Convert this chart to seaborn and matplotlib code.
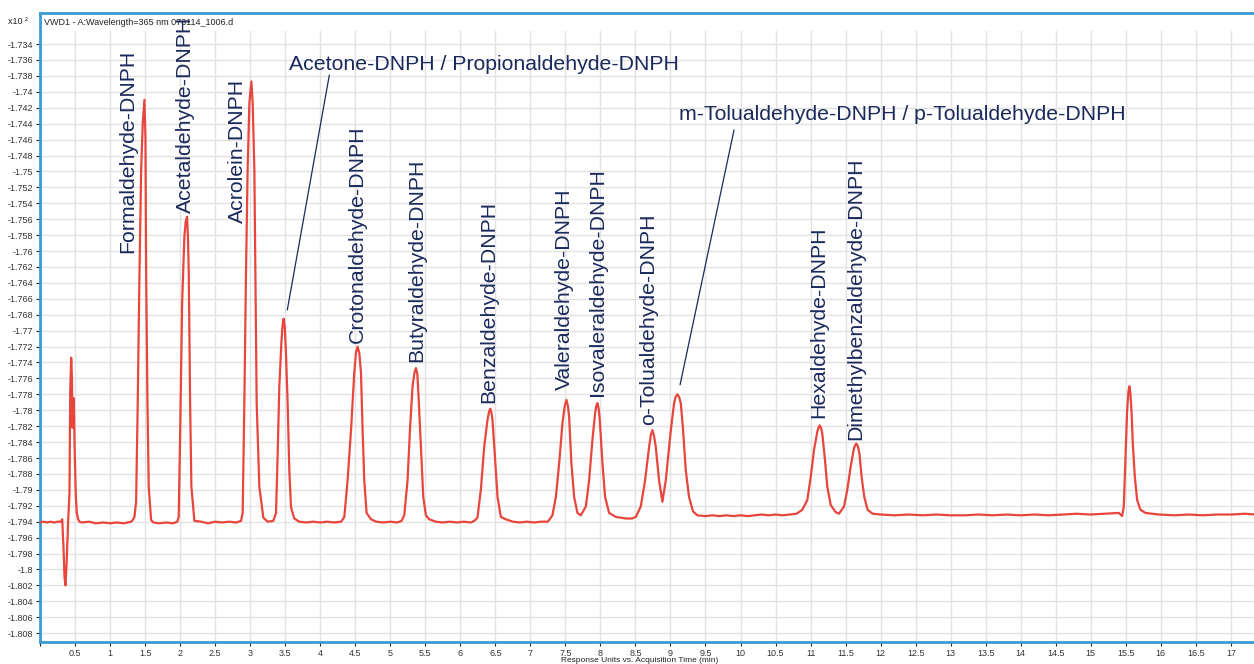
import matplotlib
matplotlib.use("Agg")
import matplotlib.pyplot as plt
import matplotlib.ticker as mticker
from matplotlib.patches import Rectangle
import seaborn as sns
import pandas as pd
import numpy as np

# --- Trace (x10^2 response units vs minutes) ---
time_min = [
    0.00, 0.05, 0.10, 0.15, 0.20, 0.25, 0.30, 0.317,
    # injection disturbance
    0.335, 0.350, 0.364, 0.382, 0.402, 0.421, 0.431, 0.445, 0.456, 0.464, 0.482,
    0.495, 0.510, 0.525, 0.545, 0.563,
    0.6, 0.7, 0.8, 0.9, 1.0, 1.1, 1.2, 1.3, 1.324,
    # formaldehyde
    1.348, 1.372, 1.395, 1.419, 1.444, 1.467, 1.491, 1.505, 1.515, 1.534, 1.552, 1.586,
    1.62, 1.7, 1.8, 1.9, 1.96,
    # acetaldehyde
    1.98, 2.0, 2.029, 2.061, 2.08, 2.10, 2.112, 2.123, 2.143, 2.161, 2.204,
    2.3, 2.4, 2.5, 2.6, 2.7, 2.8, 2.87,
    # acrolein
    2.893, 2.917, 2.941, 2.964, 2.989, 3.017, 3.036, 3.06, 3.074, 3.093, 3.131, 3.188,
    3.25, 3.33,
    # acetone / propionaldehyde
    3.369, 3.393, 3.416, 3.445, 3.462, 3.478, 3.495, 3.511, 3.535, 3.559, 3.583, 3.63,
    3.7, 3.8, 3.9, 4.0, 4.1, 4.2, 4.3,
    # crotonaldehyde
    4.344, 4.391, 4.44, 4.486, 4.51, 4.534, 4.558, 4.582, 4.605, 4.629, 4.662, 4.725,
    4.8, 4.9, 5.0, 5.1, 5.16,
    # butyraldehyde
    5.2, 5.247, 5.281, 5.318, 5.345, 5.367, 5.387, 5.404, 5.438, 5.471, 5.509, 5.556,
    5.65, 5.75, 5.85, 5.95, 6.05, 6.15, 6.2,
    # benzaldehyde
    6.245, 6.293, 6.341, 6.388, 6.41, 6.427, 6.444, 6.459, 6.494, 6.531, 6.579, 6.65,
    6.75, 6.85, 6.95, 7.05, 7.15, 7.25,
    # valeraldehyde
    7.315, 7.364, 7.411, 7.458, 7.49, 7.515, 7.535, 7.553, 7.586, 7.625, 7.672, 7.72,
    # isovaleraldehyde
    7.792, 7.839, 7.886, 7.924, 7.94, 7.957, 7.975, 7.991, 8.029, 8.067, 8.124, 8.22,
    8.362, 8.45,
    # o-tolualdehyde
    8.505, 8.576, 8.638, 8.695, 8.72, 8.742, 8.765, 8.79, 8.837, 8.885,
    # m/p-tolualdehyde
    8.933, 9.005, 9.052, 9.075, 9.098, 9.122, 9.147, 9.18, 9.218, 9.265, 9.322, 9.384,
    9.5, 9.6, 9.7, 9.8, 9.9, 10.0, 10.1, 10.2, 10.3, 10.4, 10.5, 10.6, 10.7, 10.8,
    # hexaldehyde
    10.882, 10.953, 11.002, 11.049, 11.096, 11.113, 11.13, 11.148, 11.167, 11.206,
    11.239, 11.287, 11.358, 11.405,
    # dimethylbenzaldehyde
    11.477, 11.524, 11.572, 11.619, 11.636, 11.652, 11.674, 11.697, 11.729, 11.767,
    11.814, 11.885,
    12.0, 12.2, 12.4, 12.6, 12.8, 13.0, 13.2, 13.4, 13.6, 13.8, 14.0, 14.2, 14.4,
    14.6, 14.8, 15.0, 15.2, 15.4, 15.447,
    # late peak
    15.471, 15.495, 15.519, 15.537, 15.552, 15.566, 15.581, 15.6, 15.629, 15.662,
    15.709, 15.78, 15.97,
    16.2, 16.4, 16.6, 16.8, 17.0, 17.2, 17.35,
]

response = [
    -1.7941, -1.7940, -1.7941, -1.7940, -1.7941, -1.7940, -1.7940, -1.7937,
    -1.7972, -1.8010, -1.8020, -1.7988, -1.7938, -1.7904, -1.7779, -1.7734, -1.7760, -1.7822, -1.7785,
    -1.7850, -1.7905, -1.7929, -1.7937, -1.7940,
    -1.7941, -1.7940, -1.7942, -1.7941, -1.7942, -1.7941, -1.7942, -1.7940, -1.7938,
    -1.7934, -1.7915, -1.7791, -1.7633, -1.7498, -1.7439, -1.7410, -1.7457, -1.7624, -1.7791, -1.7896, -1.7938,
    -1.7941, -1.7942, -1.7941, -1.7942, -1.7940,
    -1.7934, -1.7833, -1.7665, -1.7582, -1.7563, -1.7557, -1.7583, -1.7624, -1.7791, -1.7896, -1.7939,
    -1.7940, -1.7942, -1.7940, -1.7941, -1.7940, -1.7941, -1.7939,
    -1.7929, -1.7791, -1.7624, -1.7498, -1.7414, -1.7387, -1.7414, -1.7498, -1.7624, -1.7791, -1.7896, -1.7935,
    -1.7940, -1.7939,
    -1.7929, -1.7854, -1.7771, -1.7716, -1.7694, -1.7685, -1.7696, -1.7728, -1.7791, -1.7875, -1.7922, -1.7936,
    -1.7940, -1.7941, -1.7940, -1.7941, -1.7940, -1.7941, -1.7940,
    -1.7934, -1.7888, -1.7825, -1.7753, -1.7728, -1.7720, -1.7728, -1.7753, -1.7825, -1.7888, -1.7929, -1.7937,
    -1.7940, -1.7941, -1.7940, -1.7941, -1.7939,
    -1.7932, -1.7888, -1.7825, -1.7770, -1.7753, -1.7747, -1.7755, -1.7783, -1.7846, -1.7909, -1.7932, -1.7937,
    -1.7940, -1.7941, -1.7940, -1.7941, -1.7940, -1.7941, -1.7939,
    -1.7935, -1.7900, -1.7846, -1.7812, -1.7802, -1.7798, -1.7803, -1.7812, -1.7858, -1.7909, -1.7934, -1.7937,
    -1.7940, -1.7941, -1.7940, -1.7941, -1.7940, -1.7940,
    -1.7932, -1.7909, -1.7867, -1.7816, -1.7795, -1.7787, -1.7794, -1.7808, -1.7867, -1.7909, -1.7929, -1.7932,
    -1.7921, -1.7888, -1.7837, -1.7804, -1.7795, -1.7791, -1.7798, -1.7812, -1.7867, -1.7909, -1.7929, -1.7934,
    -1.7936, -1.7936,
    -1.7934, -1.7921, -1.7888, -1.7846, -1.7831, -1.7825, -1.7832, -1.7846, -1.7888, -1.7915,
    -1.7888, -1.7825, -1.7791, -1.7783, -1.7780, -1.7783, -1.7791, -1.7825, -1.7875, -1.7909, -1.7927, -1.7932,
    -1.7933, -1.7932, -1.7933, -1.7932, -1.7933, -1.7932, -1.7933, -1.7932, -1.7931, -1.7932,
    -1.7931, -1.7932, -1.7931, -1.7930,
    -1.7925, -1.7913, -1.7884, -1.7850, -1.7827, -1.7822, -1.7819, -1.7822, -1.7829, -1.7863,
    -1.7896, -1.7919, -1.7928, -1.7930,
    -1.7921, -1.7900, -1.7871, -1.7848, -1.7844, -1.7842, -1.7845, -1.7854, -1.7884, -1.7909,
    -1.7925, -1.7930,
    -1.7931, -1.7932, -1.7931, -1.7932, -1.7931, -1.7932, -1.7932, -1.7931, -1.7932, -1.7931,
    -1.7932, -1.7931, -1.7932, -1.7931, -1.7930, -1.7931, -1.7930, -1.7929, -1.7933,
    -1.7921, -1.7862, -1.7800, -1.7777, -1.7770, -1.7779, -1.7800, -1.7842, -1.7884, -1.7913,
    -1.7925, -1.7929, -1.7931,
    -1.7932, -1.7931, -1.7932, -1.7931, -1.7931, -1.7930, -1.7931,
]

# rotated peak labels: text, x (min), bottom of label (response)
peak_names = ["Formaldehyde-DNPH", "Acetaldehyde-DNPH", "Acrolein-DNPH",
              "Crotonaldehyde-DNPH", "Butyraldehyde-DNPH", "Benzaldehyde-DNPH",
              "Valeraldehyde-DNPH", "Isovaleraldehyde-DNPH", "o-Tolualdehyde-DNPH",
              "Hexaldehyde-DNPH", "Dimethylbenzaldehyde-DNPH"]
label_x = [1.248, 2.076, 2.817, 4.529, 5.385, 6.412, 7.482, 7.953, 8.695, 11.12, 11.647]
label_y = [-1.7603, -1.7552, -1.7565, -1.7716, -1.7739, -1.7791, -1.7775, -1.7782,
           -1.7819, -1.7810, -1.7837]

# coeluting pairs with leader lines
pair_names = ["Acetone-DNPH / Propionaldehyde-DNPH",
              "m-Tolualdehyde-DNPH / p-Tolualdehyde-DNPH"]
pair_text_xy = [(3.559, -1.7366), (9.123, -1.7429)]
pair_line_from = [(3.53, -1.7674), (9.137, -1.7768)]
pair_line_to = [(4.13, -1.7379), (9.907, -1.7448)]

df = pd.DataFrame({"time": time_min, "resp": response})

sns.set_style("white")
plt.rcParams['font.family'] = ['Liberation Sans', 'DejaVu Sans']

fig = plt.figure(figsize=(12.54, 6.64), dpi=100)
ax = fig.add_axes([0.0319, 0.0327, 0.9681, 0.9477])

sns.lineplot(data=df, x="time", y="resp", ax=ax, color="#e8453c", linewidth=1.6,
             estimator=None, sort=False, zorder=3)

ax.set_xlim(0, 17.33)
ax.set_ylim(-1.80915, -1.7301)
ax.xaxis.set_major_locator(mticker.MultipleLocator(0.5))
ax.set_yticks(np.linspace(-1.808, -1.734, 38))
ax.xaxis.set_major_formatter(mticker.FuncFormatter(
    lambda v, p: "" if abs(v) < 1e-9 else f"{v:g}"))
ax.yaxis.set_major_formatter(mticker.FuncFormatter(
    lambda v, p: f"{v:.3f}".rstrip("0").rstrip(".")))
ax.grid(True, color="#e2e2e2", linewidth=1.0)
ax.set_axisbelow(True)
ax.tick_params(axis="both", labelsize=6.5, labelcolor="#333333", length=3,
               width=0.8, color="#222222", pad=2, direction="out")
ax.tick_params(left=True, bottom=True)
ax.set_xlabel("")
ax.set_ylabel("")
for side in ["left", "bottom", "top"]:
    ax.spines[side].set_color("#3a9bd5")
    ax.spines[side].set_linewidth(2)
ax.spines["right"].set_visible(False)

# header band without grid
ax.add_patch(Rectangle((0, 0.971), 1, 0.029, transform=ax.transAxes,
                       facecolor="white", edgecolor="none", zorder=2))
ax.text(0.003, 0.985, "VWD1 - A:Wavelength=365 nm 073114_1006.d", transform=ax.transAxes,
        fontsize=6.5, color="#222222", va="center", ha="left", zorder=4)
fig.text(0.006, 0.968, "x10 ²", fontsize=6.5, color="#222222", va="center", ha="left")

navy = "#1b2a5c"
for name, x, y in zip(peak_names, label_x, label_y):
    ax.text(x, y, name, rotation=90, ha="center", va="bottom", fontsize=15.3,
            color=navy, zorder=5)

for name, (tx, ty), (x0, y0), (x1, y1) in zip(pair_names, pair_text_xy,
                                               pair_line_from, pair_line_to):
    ax.text(tx, ty, name, ha="left", va="center", fontsize=15.3, color=navy, zorder=5)
    ax.plot([x0, x1], [y0, y1], color=navy, linewidth=0.9, zorder=5)

fig.text(0.51, 0.0, "Response Units vs. Acquisition Time (min)", fontsize=6,
         color="#222222", ha="center", va="bottom")

fig.savefig("out.png", dpi=100)
